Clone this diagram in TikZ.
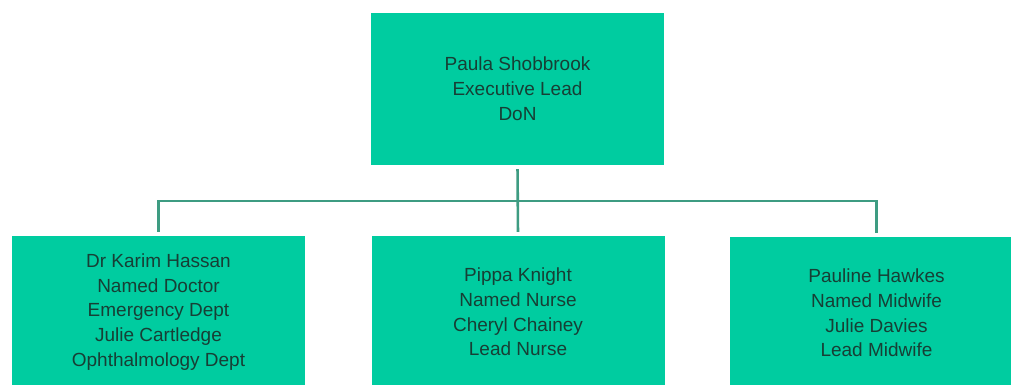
\documentclass[tikz,border=0pt]{standalone}
\usepackage{fontspec}
\setmainfont{Liberation Sans}
\definecolor{boxfill}{HTML}{00CCA0}
\definecolor{boxtext}{HTML}{173F35}
\definecolor{linecol}{HTML}{3E9C82}
\tikzset{
  orgbox/.style={rectangle, fill=boxfill, draw=none, minimum width=293pt, minimum height=152pt,
    inner sep=0pt, align=center, text=boxtext, font=\fontsize{19}{24.8}\selectfont},
  conn/.style={draw=linecol, line width=2.6pt}
}
\begin{document}
\begin{tikzpicture}[x=1pt,y=-1pt]
\useasboundingbox (0,0) rectangle (1011,385);
\clip (0,0) rectangle (1011,385);
\fill[white] (0,0) rectangle (1011,385);
\node[orgbox] (top) at (517.5,89) {Paula Shobbrook\\Executive Lead\\DoN};
\node[orgbox] (left) at (158.5,312) {Dr Karim Hassan\\Named Doctor\\Emergency Dept\\Julie Cartledge\\Ophthalmology Dept};
\node[orgbox] (mid) at (518,312) {Pippa Knight\\Named Nurse\\Cheryl Chainey\\Lead Nurse};
\node[orgbox] (right) at (876.5,313) {Pauline Hawkes\\Named Midwife\\Julie Davies\\Lead Midwife};
\coordinate (bus) at (517,201);
\draw[conn, shorten <=4pt, shorten >=4pt] (top.south) -- (mid.north);
\draw[conn, shorten <=4pt, shorten >=4pt] (left.north) -- (left.north |- bus) -- (right.north |- bus) -- (right.north);
\end{tikzpicture}
\end{document}
